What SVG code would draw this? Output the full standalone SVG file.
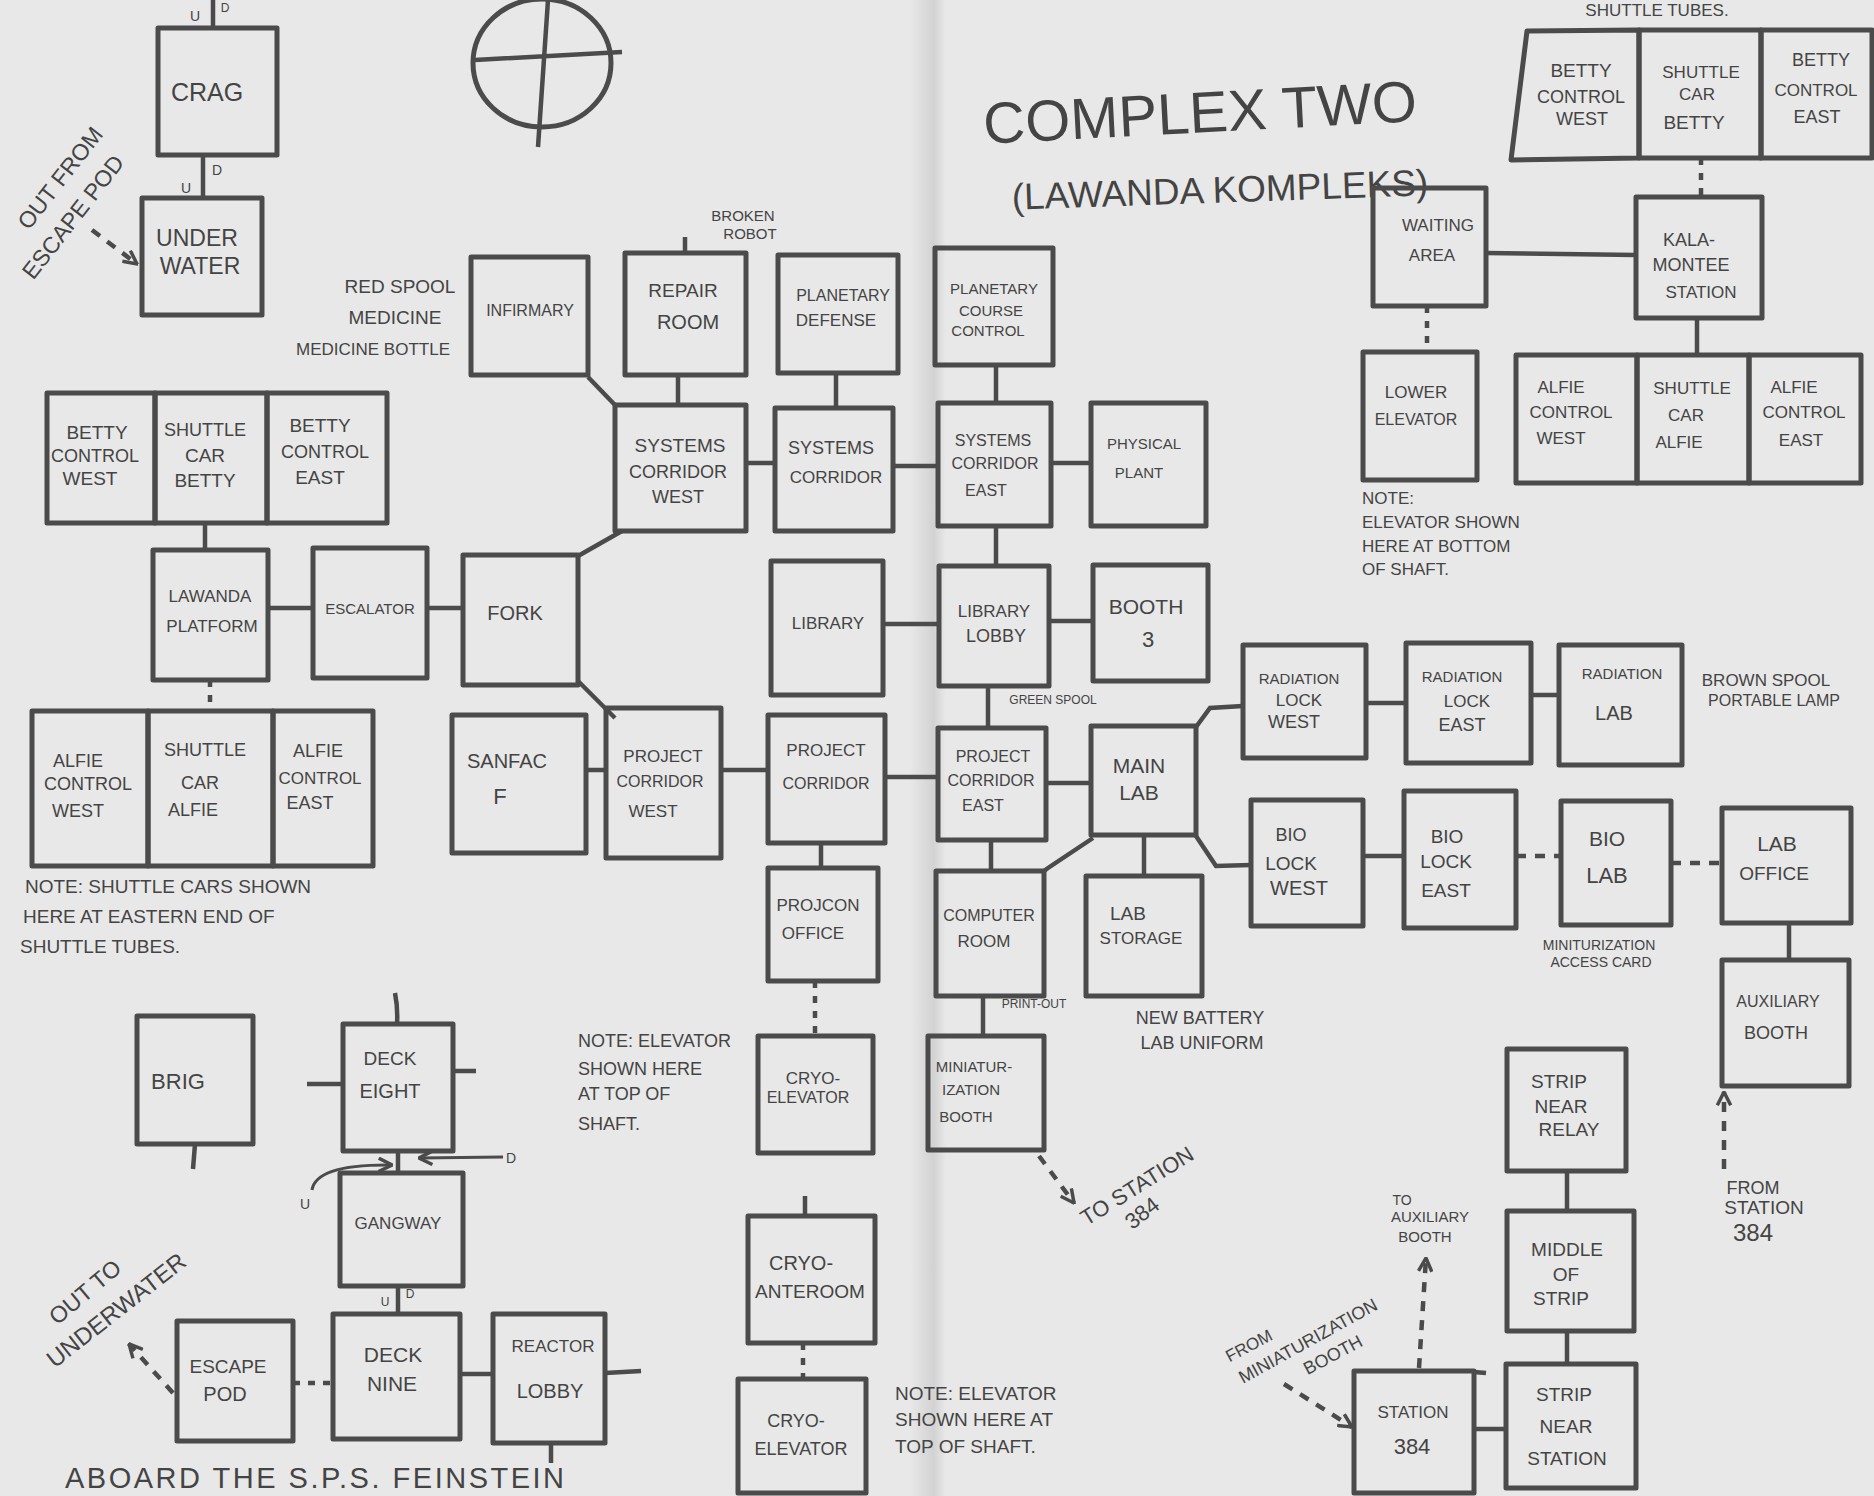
<svg xmlns="http://www.w3.org/2000/svg" width="1874" height="1496" viewBox="0 0 1874 1496">
<defs>
<linearGradient id="spine" x1="0" x2="1" y1="0" y2="0">
<stop offset="0" stop-color="#c4c4c4" stop-opacity="0"/>
<stop offset="0.65" stop-color="#c4c4c4" stop-opacity="0.6"/>
<stop offset="1" stop-color="#c4c4c4" stop-opacity="0"/>
</linearGradient>
<marker id="ah" viewBox="0 0 12 12" refX="11" refY="6" markerWidth="16" markerHeight="16" markerUnits="userSpaceOnUse" orient="auto">
<path d="M1,1 L11,6 L1,11" fill="none" stroke="#4b4b4b" stroke-width="2.6" stroke-dasharray="none"/>
</marker>
<style>
.b{fill:none;stroke:#4b4b4b;stroke-width:5;stroke-linejoin:round}
.c{fill:none;stroke:#4b4b4b;stroke-width:4.5}
.th{fill:none;stroke:#4b4b4b;stroke-width:3}
.dt{stroke-dasharray:7 8}
.ds{stroke-dasharray:10 9}
text{font-family:"Liberation Sans",Arial,sans-serif;fill:#444444;text-anchor:middle;dominant-baseline:central}
.st{text-anchor:start}
</style>
</defs>
<rect x="0" y="0" width="1874" height="1496" fill="#e8e8e8"/>
<rect x="910" y="0" width="36" height="1496" fill="url(#spine)"/>

<!-- compass -->
<g id="compass">
<ellipse cx="542" cy="63" rx="69" ry="64" class="b"/>
<path d="M475,60 L622,52 M548,0 L538,147" class="c"/>
</g>

<!-- titles and free text -->
<g id="titles">
<text x="1200" y="112" font-size="58" transform="rotate(-3 1200 112)">COMPLEX TWO</text>
<text x="1220" y="190" font-size="37" transform="rotate(-2 1220 190)">(LAWANDA KOMPLEKS)</text>
<text class="st" x="65" y="1478" font-size="29" letter-spacing="2.5">ABOARD THE S.P.S. FEINSTEIN</text>
<text x="1657" y="10" font-size="17">SHUTTLE TUBES.</text>
</g>

<g id="notes">
<text x="400" y="286" font-size="19">RED SPOOL</text>
<text x="395" y="317" font-size="19">MEDICINE</text>
<text x="373" y="349" font-size="17">MEDICINE BOTTLE</text>
<text x="743" y="215" font-size="15">BROKEN</text>
<text x="750" y="233" font-size="15">ROBOT</text>
<text x="1053" y="700" font-size="12">GREEN SPOOL</text>
<text x="1034" y="1004" font-size="12">PRINT-OUT</text>
<text x="1200" y="1018" font-size="18">NEW BATTERY</text>
<text x="1202" y="1043" font-size="18">LAB UNIFORM</text>
<text x="1766" y="680" font-size="17">BROWN SPOOL</text>
<text x="1774" y="700" font-size="16">PORTABLE LAMP</text>
<text x="1599" y="945" font-size="14">MINITURIZATION</text>
<text x="1601" y="962" font-size="14">ACCESS CARD</text>
<text class="st" x="25" y="886" font-size="19">NOTE: SHUTTLE CARS SHOWN</text>
<text class="st" x="23" y="916" font-size="19">HERE AT EASTERN END OF</text>
<text class="st" x="20" y="946" font-size="19">SHUTTLE TUBES.</text>
<text class="st" x="578" y="1041" font-size="18">NOTE: ELEVATOR</text>
<text class="st" x="578" y="1069" font-size="18">SHOWN HERE</text>
<text class="st" x="578" y="1094" font-size="18">AT TOP OF</text>
<text class="st" x="578" y="1124" font-size="18">SHAFT.</text>
<text class="st" x="895" y="1393" font-size="19">NOTE: ELEVATOR</text>
<text class="st" x="895" y="1419" font-size="19">SHOWN HERE AT</text>
<text class="st" x="895" y="1446" font-size="19">TOP OF SHAFT.</text>
<text class="st" x="1362" y="498" font-size="17">NOTE:</text>
<text class="st" x="1362" y="522" font-size="17">ELEVATOR SHOWN</text>
<text class="st" x="1362" y="546" font-size="17">HERE AT BOTTOM</text>
<text class="st" x="1362" y="569" font-size="17">OF SHAFT.</text>
<text font-size="23" transform="translate(60,178) rotate(-52)">OUT FROM</text>
<text font-size="23" transform="translate(73,217) rotate(-52)">ESCAPE POD</text>
<text font-size="23" transform="translate(85,1292) rotate(-40)">OUT TO</text>
<text font-size="24" transform="translate(116,1310) rotate(-38)">UNDERWATER</text>
<text font-size="22" transform="translate(1137,1186) rotate(-32)">TO STATION</text>
<text font-size="22" transform="translate(1142,1213) rotate(-38)">384</text>
<text font-size="17" transform="translate(1249,1346) rotate(-28)">FROM</text>
<text font-size="18" transform="translate(1308,1341) rotate(-29)">MINIATURIZATION</text>
<text font-size="18" transform="translate(1333,1355) rotate(-28)">BOOTH</text>
<text x="1402" y="1200" font-size="14">TO</text>
<text x="1430" y="1216" font-size="15">AUXILIARY</text>
<text x="1425" y="1236" font-size="15">BOOTH</text>
<text x="1753" y="1188" font-size="18">FROM</text>
<text x="1764" y="1207" font-size="19">STATION</text>
<text x="1753" y="1232" font-size="24">384</text>
<text x="195" y="16" font-size="14">U</text>
<text x="225" y="8" font-size="12">D</text>
<text x="217" y="170" font-size="14">D</text>
<text x="186" y="188" font-size="14">U</text>
<text x="511" y="1158" font-size="14">D</text>
<text x="305" y="1204" font-size="14">U</text>
<text x="385" y="1302" font-size="12">U</text>
<text x="410" y="1294" font-size="12">D</text>
</g>

<!-- connectors -->
<g id="connectors">
<path class="c" d="M213,0 V28"/>
<path class="c" d="M203,155 V198"/>
<path class="c" d="M205,523 V550"/>
<path class="c" d="M268,608 H313"/>
<path class="c" d="M427,608 H463"/>
<path class="c dt" d="M210,680 V711"/>
<path class="c" d="M588,377 L615,405"/>
<path class="c" d="M678,375 V405"/>
<path class="c" d="M836,373 V408"/>
<path class="c" d="M746,463 H775"/>
<path class="c" d="M893,466 H938"/>
<path class="c" d="M996,365 V403"/>
<path class="c" d="M1051,463 H1091"/>
<path class="c" d="M622,531 L578,556"/>
<path class="c" d="M578,681 L615,718"/>
<path class="c" d="M586,770 H606"/>
<path class="c" d="M721,770 H768"/>
<path class="c" d="M883,624 H939"/>
<path class="c" d="M885,777 H938"/>
<path class="c" d="M821,843 V868"/>
<path class="c dt" d="M815,981 V1036"/>
<path class="c" d="M996,526 V566"/>
<path class="c" d="M1049,621 H1093"/>
<path class="c" d="M988,686 V728"/>
<path class="c" d="M1046,783 H1091"/>
<path class="c" d="M1196,727 L1210,708 L1243,706"/>
<path class="c" d="M1196,836 L1216,866 L1251,865"/>
<path class="c" d="M1144,835 V876"/>
<path class="c" d="M991,840 V871"/>
<path class="c" d="M1093,838 L1048,868 L1044,871"/>
<path class="c" d="M1366,703 H1406"/>
<path class="c" d="M1531,695 H1559"/>
<path class="c" d="M1363,856 H1404"/>
<path class="c ds" d="M1516,856 H1561"/>
<path class="c ds" d="M1671,863 H1722"/>
<path class="c" d="M1789,923 V960"/>
<path class="c ds" d="M1724,1169 V1092" marker-end="url(#ah)"/>
<path class="c" d="M983,996 V1036"/>
<path class="c ds" d="M1039,1156 L1074,1203" marker-end="url(#ah)"/>
<path class="c ds" d="M1284,1384 L1352,1427" marker-end="url(#ah)"/>
<path class="c ds" d="M1419,1368 L1426,1258" marker-end="url(#ah)"/>
<path class="c" d="M1474,1429 H1506"/>
<path class="c" d="M1567,1171 V1211"/>
<path class="c" d="M1567,1331 V1364"/>
<path class="c dt" d="M1701,158 V197"/>
<path class="c" d="M1486,253 L1636,255"/>
<path class="c" d="M1697,318 V355"/>
<path class="c dt" d="M1427,306 V352"/>
<path class="c" d="M685,237 V253"/>
<path class="c" d="M805,1196 V1216"/>
<path class="c dt" d="M803,1343 V1379"/>
<path class="c" d="M195,1144 L193,1169"/>
<path class="c" d="M395,993 Q398,1008 397,1024"/>
<path class="c" d="M307,1084 H343"/>
<path class="c" d="M453,1071 H476"/>
<path class="c" d="M398,1151 V1173"/>
<path class="th" d="M503,1157 L419,1158" marker-end="url(#ah)"/>
<path class="th" d="M312,1190 Q316,1164 392,1165" marker-end="url(#ah)"/>
<path class="c" d="M398,1286 V1314"/>
<path class="c dt" d="M293,1383 H333"/>
<path class="c ds" d="M173,1393 L129,1344" marker-end="url(#ah)"/>
<path class="c" d="M460,1374 H493"/>
<path class="c" d="M605,1373 L641,1371"/>
<path class="c" d="M551,1443 V1463"/>
<path class="c ds" d="M92,230 L137,264" marker-end="url(#ah)"/>
<path class="c" d="M1474,1372 L1486,1373"/>
</g>

<!-- nodes -->
<g id="n-crag"><rect class="b" x="158" y="28" width="119" height="127"/><text x="207" y="92" font-size="25">CRAG</text></g>
<g id="n-underwater"><rect class="b" x="142" y="198" width="120" height="117"/><text x="197" y="238" font-size="23">UNDER</text><text x="200" y="266" font-size="23">WATER</text></g>

<g id="n-betty-control-west-1"><rect class="b" x="47" y="393" width="108" height="130"/><text x="97" y="432" font-size="19">BETTY</text><text x="95" y="456" font-size="18">CONTROL</text><text x="90" y="478" font-size="19">WEST</text></g>
<g id="n-shuttle-car-betty-1"><rect class="b" x="155" y="393" width="112" height="130"/><text x="205" y="430" font-size="18">SHUTTLE</text><text x="205" y="455" font-size="19">CAR</text><text x="205" y="480" font-size="19">BETTY</text></g>
<g id="n-betty-control-east-1"><rect class="b" x="267" y="393" width="120" height="130"/><text x="320" y="425" font-size="19">BETTY</text><text x="325" y="452" font-size="18">CONTROL</text><text x="320" y="477" font-size="19">EAST</text></g>

<g id="n-lawanda-platform"><rect class="b" x="153" y="550" width="115" height="130"/><text x="210" y="596" font-size="17">LAWANDA</text><text x="212" y="626" font-size="17">PLATFORM</text></g>
<g id="n-escalator"><rect class="b" x="313" y="548" width="114" height="130"/><text x="370" y="608" font-size="15">ESCALATOR</text></g>
<g id="n-fork"><rect class="b" x="463" y="555" width="115" height="130"/><text x="515" y="613" font-size="20">FORK</text></g>

<g id="n-alfie-control-west-1"><rect class="b" x="32" y="711" width="116" height="155"/><text x="78" y="761" font-size="18">ALFIE</text><text x="88" y="784" font-size="18">CONTROL</text><text x="78" y="811" font-size="18">WEST</text></g>
<g id="n-shuttle-car-alfie-1"><rect class="b" x="148" y="711" width="125" height="155"/><text x="205" y="750" font-size="18">SHUTTLE</text><text x="200" y="783" font-size="18">CAR</text><text x="193" y="810" font-size="18">ALFIE</text></g>
<g id="n-alfie-control-east-1"><rect class="b" x="273" y="711" width="100" height="155"/><text x="318" y="751" font-size="18">ALFIE</text><text x="320" y="778" font-size="17">CONTROL</text><text x="310" y="803" font-size="18">EAST</text></g>

<g id="n-infirmary"><rect class="b" x="471" y="257" width="117" height="118"/><text x="530" y="310" font-size="16">INFIRMARY</text></g>
<g id="n-repair-room"><rect class="b" x="625" y="253" width="121" height="122"/><text x="683" y="290" font-size="19">REPAIR</text><text x="688" y="322" font-size="20">ROOM</text></g>
<g id="n-planetary-defense"><rect class="b" x="778" y="255" width="120" height="118"/><text x="843" y="295" font-size="16">PLANETARY</text><text x="836" y="320" font-size="17">DEFENSE</text></g>
<g id="n-systems-corridor-west"><rect class="b" x="615" y="405" width="131" height="126"/><text x="680" y="445" font-size="19">SYSTEMS</text><text x="678" y="472" font-size="18">CORRIDOR</text><text x="678" y="497" font-size="18">WEST</text></g>
<g id="n-systems-corridor"><rect class="b" x="775" y="408" width="118" height="123"/><text x="831" y="448" font-size="18">SYSTEMS</text><text x="836" y="477" font-size="17">CORRIDOR</text></g>
<g id="n-planetary-course-control"><rect class="b" x="935" y="248" width="118" height="117"/><text x="994" y="288" font-size="15">PLANETARY</text><text x="991" y="310" font-size="15">COURSE</text><text x="988" y="330" font-size="15">CONTROL</text></g>
<g id="n-systems-corridor-east"><rect class="b" x="938" y="403" width="113" height="123"/><text x="993" y="440" font-size="16">SYSTEMS</text><text x="995" y="463" font-size="16">CORRIDOR</text><text x="986" y="490" font-size="16">EAST</text></g>
<g id="n-physical-plant"><rect class="b" x="1091" y="403" width="115" height="123"/><text x="1144" y="443" font-size="15">PHYSICAL</text><text x="1139" y="472" font-size="15">PLANT</text></g>

<g id="n-library"><rect class="b" x="771" y="561" width="112" height="134"/><text x="828" y="623" font-size="17">LIBRARY</text></g>
<g id="n-library-lobby"><rect class="b" x="939" y="566" width="110" height="120"/><text x="994" y="611" font-size="17">LIBRARY</text><text x="996" y="636" font-size="18">LOBBY</text></g>
<g id="n-booth-3"><rect class="b" x="1093" y="565" width="115" height="116"/><text x="1146" y="606" font-size="21">BOOTH</text><text x="1148" y="639" font-size="22">3</text></g>
<g id="n-sanfac-f"><rect class="b" x="452" y="715" width="134" height="138"/><text x="507" y="761" font-size="20">SANFAC</text><text x="500" y="796" font-size="22">F</text></g>
<g id="n-project-corridor-west"><rect class="b" x="606" y="708" width="115" height="150"/><text x="663" y="756" font-size="17">PROJECT</text><text x="660" y="781" font-size="16">CORRIDOR</text><text x="653" y="811" font-size="17">WEST</text></g>
<g id="n-project-corridor"><rect class="b" x="768" y="715" width="117" height="128"/><text x="826" y="750" font-size="17">PROJECT</text><text x="826" y="783" font-size="16">CORRIDOR</text></g>
<g id="n-projcon-office"><rect class="b" x="768" y="868" width="110" height="113"/><text x="818" y="905" font-size="17">PROJCON</text><text x="813" y="933" font-size="17">OFFICE</text></g>
<g id="n-project-corridor-east"><rect class="b" x="938" y="728" width="108" height="112"/><text x="993" y="756" font-size="16">PROJECT</text><text x="991" y="780" font-size="16">CORRIDOR</text><text x="983" y="805" font-size="16">EAST</text></g>
<g id="n-main-lab"><rect class="b" x="1091" y="726" width="105" height="109"/><text x="1139" y="765" font-size="21">MAIN</text><text x="1139" y="792" font-size="21">LAB</text></g>
<g id="n-computer-room"><rect class="b" x="936" y="871" width="108" height="125"/><text x="989" y="915" font-size="16">COMPUTER</text><text x="984" y="941" font-size="17">ROOM</text></g>
<g id="n-lab-storage"><rect class="b" x="1086" y="876" width="116" height="120"/><text x="1128" y="913" font-size="19">LAB</text><text x="1141" y="938" font-size="17">STORAGE</text></g>
<g id="n-miniaturization-booth"><rect class="b" x="928" y="1036" width="116" height="114"/><text x="974" y="1066" font-size="15">MINIATUR-</text><text x="971" y="1089" font-size="15">IZATION</text><text x="966" y="1116" font-size="15">BOOTH</text></g>

<g id="n-radiation-lock-west"><rect class="b" x="1243" y="645" width="123" height="113"/><text x="1299" y="678" font-size="15">RADIATION</text><text x="1299" y="700" font-size="17">LOCK</text><text x="1294" y="722" font-size="18">WEST</text></g>
<g id="n-bio-lock-west"><rect class="b" x="1251" y="800" width="112" height="126"/><text x="1291" y="835" font-size="18">BIO</text><text x="1291" y="863" font-size="19">LOCK</text><text x="1299" y="888" font-size="20">WEST</text></g>
<g id="n-radiation-lock-east"><rect class="b" x="1406" y="643" width="125" height="120"/><text x="1462" y="676" font-size="15">RADIATION</text><text x="1467" y="701" font-size="17">LOCK</text><text x="1462" y="725" font-size="18">EAST</text></g>
<g id="n-radiation-lab"><rect class="b" x="1559" y="645" width="123" height="120"/><text x="1622" y="673" font-size="15">RADIATION</text><text x="1614" y="713" font-size="20">LAB</text></g>
<g id="n-bio-lock-east"><rect class="b" x="1404" y="791" width="112" height="137"/><text x="1447" y="836" font-size="19">BIO</text><text x="1446" y="861" font-size="19">LOCK</text><text x="1446" y="890" font-size="19">EAST</text></g>
<g id="n-bio-lab"><rect class="b" x="1561" y="801" width="110" height="124"/><text x="1607" y="838" font-size="21">BIO</text><text x="1607" y="875" font-size="22">LAB</text></g>
<g id="n-lab-office"><rect class="b" x="1722" y="808" width="129" height="115"/><text x="1777" y="843" font-size="21">LAB</text><text x="1774" y="873" font-size="19">OFFICE</text></g>
<g id="n-auxiliary-booth"><rect class="b" x="1722" y="960" width="127" height="126"/><text x="1778" y="1001" font-size="16">AUXILIARY</text><text x="1776" y="1033" font-size="18">BOOTH</text></g>

<g id="n-waiting-area"><rect class="b" x="1373" y="188" width="113" height="118"/><text x="1438" y="225" font-size="17">WAITING</text><text x="1432" y="255" font-size="17">AREA</text></g>
<g id="n-kalamontee-station"><rect class="b" x="1636" y="197" width="126" height="121"/><text x="1689" y="240" font-size="18">KALA-</text><text x="1691" y="265" font-size="18">MONTEE</text><text x="1701" y="292" font-size="17">STATION</text></g>
<g id="n-lower-elevator"><rect class="b" x="1363" y="352" width="114" height="128"/><text x="1416" y="392" font-size="17">LOWER</text><text x="1416" y="419" font-size="16">ELEVATOR</text></g>

<g id="n-betty-control-west-2"><path class="b" d="M1527,31 L1639,30 L1639,158 L1511,160 Z"/><text x="1581" y="70" font-size="19">BETTY</text><text x="1581" y="97" font-size="18">CONTROL</text><text x="1582" y="119" font-size="18">WEST</text></g>
<g id="n-shuttle-car-betty-2"><rect class="b" x="1639" y="30" width="122" height="128"/><text x="1701" y="72" font-size="17">SHUTTLE</text><text x="1697" y="94" font-size="17">CAR</text><text x="1694" y="122" font-size="19">BETTY</text></g>
<g id="n-betty-control-east-2"><rect class="b" x="1761" y="30" width="111" height="128"/><text x="1821" y="60" font-size="18">BETTY</text><text x="1816" y="90" font-size="17">CONTROL</text><text x="1817" y="117" font-size="18">EAST</text></g>

<g id="n-alfie-control-west-2"><rect class="b" x="1516" y="355" width="121" height="128"/><text x="1561" y="387" font-size="17">ALFIE</text><text x="1571" y="412" font-size="17">CONTROL</text><text x="1561" y="438" font-size="17">WEST</text></g>
<g id="n-shuttle-car-alfie-2"><rect class="b" x="1637" y="355" width="112" height="128"/><text x="1692" y="388" font-size="17">SHUTTLE</text><text x="1686" y="415" font-size="17">CAR</text><text x="1679" y="442" font-size="17">ALFIE</text></g>
<g id="n-alfie-control-east-2"><rect class="b" x="1749" y="355" width="112" height="128"/><text x="1794" y="387" font-size="17">ALFIE</text><text x="1804" y="412" font-size="17">CONTROL</text><text x="1801" y="440" font-size="17">EAST</text></g>

<g id="n-strip-near-relay"><rect class="b" x="1507" y="1049" width="119" height="122"/><text x="1559" y="1081" font-size="19">STRIP</text><text x="1561" y="1106" font-size="19">NEAR</text><text x="1569" y="1129" font-size="19">RELAY</text></g>
<g id="n-middle-of-strip"><rect class="b" x="1507" y="1211" width="127" height="120"/><text x="1567" y="1249" font-size="19">MIDDLE</text><text x="1566" y="1274" font-size="19">OF</text><text x="1561" y="1298" font-size="19">STRIP</text></g>
<g id="n-strip-near-station"><rect class="b" x="1506" y="1364" width="130" height="124"/><text x="1564" y="1394" font-size="19">STRIP</text><text x="1566" y="1426" font-size="19">NEAR</text><text x="1567" y="1458" font-size="19">STATION</text></g>
<g id="n-station-384"><rect class="b" x="1354" y="1371" width="120" height="122"/><text x="1413" y="1412" font-size="17">STATION</text><text x="1412" y="1446" font-size="22">384</text></g>

<g id="n-cryo-elevator-1"><rect class="b" x="758" y="1036" width="115" height="117"/><text x="813" y="1078" font-size="17">CRYO-</text><text x="808" y="1097" font-size="16">ELEVATOR</text></g>
<g id="n-cryo-anteroom"><rect class="b" x="748" y="1216" width="127" height="127"/><text x="801" y="1263" font-size="20">CRYO-</text><text x="810" y="1291" font-size="19">ANTEROOM</text></g>
<g id="n-cryo-elevator-2"><rect class="b" x="738" y="1379" width="128" height="114"/><text x="796" y="1421" font-size="18">CRYO-</text><text x="801" y="1449" font-size="18">ELEVATOR</text></g>

<g id="n-brig"><rect class="b" x="137" y="1016" width="116" height="128"/><text x="178" y="1081" font-size="22">BRIG</text></g>
<g id="n-deck-eight"><rect class="b" x="343" y="1024" width="110" height="127"/><text x="390" y="1058" font-size="19">DECK</text><text x="390" y="1091" font-size="20">EIGHT</text></g>
<g id="n-gangway"><rect class="b" x="340" y="1173" width="123" height="113"/><text x="398" y="1223" font-size="17">GANGWAY</text></g>
<g id="n-deck-nine"><rect class="b" x="333" y="1314" width="127" height="125"/><text x="393" y="1354" font-size="21">DECK</text><text x="392" y="1383" font-size="21">NINE</text></g>
<g id="n-escape-pod"><rect class="b" x="177" y="1321" width="116" height="120"/><text x="228" y="1366" font-size="19">ESCAPE</text><text x="225" y="1394" font-size="20">POD</text></g>
<g id="n-reactor-lobby"><rect class="b" x="493" y="1314" width="112" height="129"/><text x="553" y="1346" font-size="17">REACTOR</text><text x="550" y="1391" font-size="20">LOBBY</text></g>
</svg>
